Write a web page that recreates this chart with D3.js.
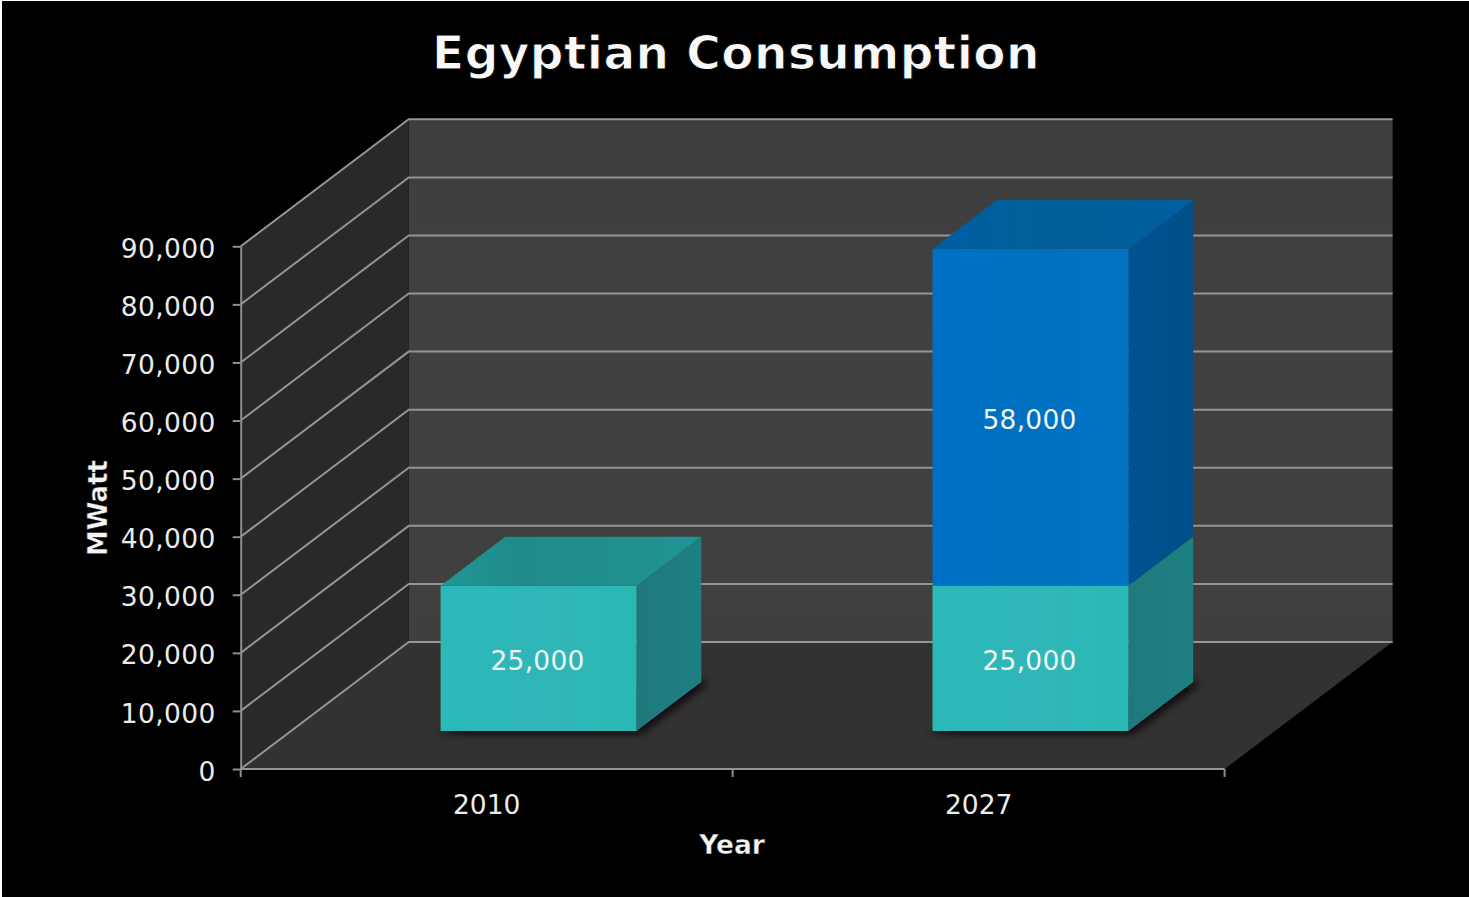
<!DOCTYPE html>
<html>
<head>
<meta charset="utf-8">
<title>Egyptian Consumption</title>
<script src="https://cdn.jsdelivr.net/npm/d3@7/dist/d3.min.js"></script>
<style>
  html, body { margin: 0; padding: 0; background: #fff; overflow: hidden; }
  svg { display: block; position: absolute; left: 2px; top: 1px; }
  text { font-family: "DejaVu Sans", sans-serif; }
</style>
</head>
<body>
<svg id="chart" width="1467" height="896"></svg>
<script>
// Chart values
const years = ["2010", "2027"];
const existing = [25000, 25000];
const added = [0, 58000];
const valueTicks = [0, 10000, 20000, 30000, 40000, 50000, 60000, 70000, 80000, 90000];
const chartTitle = "Egyptian Consumption";
const valueTitle = "MWatt";
const yearTitle = "Year";

const offsetX = -2, offsetY = -1;   // svg sits slightly inside the page edge
const svg = d3.select("#chart");
const root = svg.append("g").attr("transform", `translate(${offsetX},${offsetY})`);
const defs = svg.append("defs");

// Oblique projection: depth 0 is the front plane, depth 1 the back wall
const depthX = 168, depthY = 127;
const y = d3.scaleLinear().domain([0, 90000]).range([769, 246.3]);
const x = d3.scaleBand().domain(years).range([240.7, 1224.6]);
const faceWidth = 196, barFront = 0.30, barBack = 0.685, barShift = 1.5;
const project = (px, v, d) => [px + d * depthX, y(v) - d * depthY];
const poly = pts => pts.map(p => p.join(",")).join(" ");
const left = x.range()[0], right = x.range()[1];

function gradient(id, stops, x2 = 1, y2 = 0) {
  const g = defs.append("linearGradient").attr("id", id)
    .attr("x1", 0).attr("y1", 0).attr("x2", x2).attr("y2", y2);
  stops.forEach(([o, c]) => g.append("stop").attr("offset", o).attr("stop-color", c));
}
gradient("wallBack", [[0, "#3e3e3e"], [0.5, "#414141"], [1, "#403f3e"]], 0, 1);
gradient("tealFront", [[0, "#2bb9b8"], [0.5, "#30b6b8"], [1, "#2bb8b4"]], 1, 0);
gradient("tealSide", [[0, "#1f797c"], [1, "#1e8081"]]);
gradient("tealTop", [[0, "#1f9896"], [0.3, "#208b8a"], [0.8, "#209190"], [1, "#1f9597"]]);
gradient("blueFront", [[0, "#0070c6"], [0.25, "#0071c2"], [1, "#0072c0"]]);
gradient("blueSide", [[0, "#005292"], [1, "#004f88"]]);
gradient("blueTop", [[0, "#005da6"], [0.35, "#00609a"], [0.75, "#005e9c"], [1, "#005fa4"]]);
defs.append("filter").attr("id", "floorShadow")
  .attr("x", "-20%").attr("y", "-50%").attr("width", "140%").attr("height", "200%")
  .append("feGaussianBlur").attr("stdDeviation", 4);

// Black backdrop
root.append("rect").attr("x", 2).attr("y", 1).attr("width", 1469).attr("height", 897).attr("fill", "#000");

// Walls and floor
root.append("polygon").attr("fill", "url(#wallBack)")
  .attr("points", poly([project(left, 0, 1), project(left, 90000, 1), project(right, 90000, 1), project(right, 0, 1)]));
root.append("polygon").attr("fill", "#292929")
  .attr("points", poly([project(left, 0, 0), project(left, 90000, 0), project(left, 90000, 1), project(left, 0, 1)]));
root.append("polygon").attr("fill", "#333231")
  .attr("points", poly([project(left, 0, 0), project(left, 0, 1), project(right, 0, 1), project(right, 0, 0)]));

// Gridlines run from the front axis along the side wall, then across the back wall
const grid = root.append("g").attr("fill", "none");
grid.selectAll("polyline").data(valueTicks).join("polyline")
  .attr("points", v => poly([project(left, v, 0), project(left, v, 1), project(right, v, 1)]))
  .attr("stroke", "#949494").attr("stroke-width", 2);

// Stacked bars
const segments = years.flatMap((yr, i) => [
  { yr, lo: 0, hi: existing[i], value: existing[i], kind: "teal" },
  { yr, lo: existing[i], hi: existing[i] + added[i], value: added[i], kind: "blue" }
]).filter(s => s.value > 0);

const barLeft = yr => x(yr) + x.bandwidth() / 2 - faceWidth / 2 + barShift;

// Soft shadow where each bar meets the floor
root.append("g").selectAll("polygon").data(years).join("polygon")
  .attr("filter", "url(#floorShadow)").attr("fill", "#08060c")
  .attr("points", yr => {
    const l = barLeft(yr), r = l + faceWidth;
    return poly([project(l - 6, -400, barFront), project(r + 4, -400, barFront), project(r + 8, 0, barBack), project(r - 30, 0, barBack)]);
  });

const bars = root.append("g").selectAll("g").data(segments).join("g");
bars.each(function (s) {
  const g = d3.select(this), l = barLeft(s.yr), r = l + faceWidth;
  g.append("polygon").attr("fill", `url(#${s.kind}Side)`)
    .attr("points", poly([project(r, s.lo, barFront), project(r, s.hi, barFront), project(r, s.hi, barBack), project(r, s.lo, barBack)]));
  g.append("polygon").attr("fill", `url(#${s.kind}Front)`)
    .attr("points", poly([project(l, s.lo, barFront), project(l, s.hi, barFront), project(r, s.hi, barFront), project(r, s.lo, barFront)]));
  g.append("text")
    .attr("x", (l + r) / 2 + barFront * depthX - 1)
    .attr("y", y((s.lo + s.hi) / 2) - barFront * depthY + 1.5)
    .attr("dy", "0.37em").attr("text-anchor", "middle")
    .attr("font-size", 26.5).attr("letter-spacing", 0.25).attr("fill", "#eef4f4")
    .text(d3.format(",")(s.value));
});
// Only the uppermost segment of each stack shows its top face
years.forEach((yr, i) => {
  const l = barLeft(yr), r = l + faceWidth, top = existing[i] + added[i];
  const kind = added[i] > 0 ? "blue" : "teal";
  root.append("polygon").attr("fill", `url(#${kind}Top)`)
    .attr("points", poly([project(l, top, barFront), project(l, top, barBack), project(r, top, barBack), project(r, top, barFront)]));
});
bars.filter(s => s.kind === "teal").raise();
root.selectAll("text").raise();

// Front axes
const axisColor = "#8e8e8e";
const yAxis = root.append("g").attr("transform", `translate(${left},0)`)
  .call(d3.axisLeft(y).tickValues(valueTicks).tickFormat(d3.format(",")).tickSize(8).tickPadding(17).tickSizeOuter(0));
const xAxis = root.append("g").attr("transform", `translate(0,${y(0)})`)
  .call(d3.axisBottom(x).tickSize(0).tickPadding(26));
xAxis.select(".domain").remove();
xAxis.append("line").attr("x1", left).attr("x2", right).attr("stroke", "#969696").attr("stroke-width", 2);
xAxis.selectAll(".tick line").remove();
xAxis.selectAll(".boundary").data([0, 1, 2]).join("line").attr("class", "boundary")
  .attr("x1", i => left + i * x.bandwidth()).attr("x2", i => left + i * x.bandwidth())
  .attr("y1", 0).attr("y2", 8).attr("stroke", axisColor).attr("stroke-width", 2);

yAxis.select(".domain").attr("stroke", axisColor).attr("stroke-width", 2);
yAxis.selectAll(".tick line").attr("stroke", axisColor).attr("stroke-width", 2);
yAxis.selectAll(".tick text").attr("font-size", 26.5).attr("letter-spacing", 0.35).attr("fill", "#ebebeb").attr("font-family", '"DejaVu Sans", sans-serif').attr("dy", "0.42em");
xAxis.selectAll(".tick text").attr("font-size", 26.5).attr("fill", "#ebebeb").attr("font-family", '"DejaVu Sans", sans-serif');

// Titles: a hairline black outline keeps the heavy bold glyphs from looking too dense
root.append("text").attr("x", 736).attr("y", 69).attr("text-anchor", "middle")
  .attr("font-size", 47).attr("font-weight", 700).attr("letter-spacing", 0.45).attr("fill", "#f8f8f8")
  .attr("stroke", "#000").attr("stroke-width", 1).text(chartTitle);
root.append("text").attr("x", 732).attr("y", 853.5).attr("text-anchor", "middle")
  .attr("font-size", 26.5).attr("font-weight", 700).attr("fill", "#f4f4f4")
  .attr("stroke", "#000").attr("stroke-width", 0.4).text(yearTitle);
root.append("text").attr("transform", "translate(106.5,508) rotate(-90)").attr("text-anchor", "middle")
  .attr("font-size", 26).attr("font-weight", 700).attr("fill", "#f4f4f4")
  .attr("stroke", "#000").attr("stroke-width", 0.4).text(valueTitle);
</script>
</body>
</html>
